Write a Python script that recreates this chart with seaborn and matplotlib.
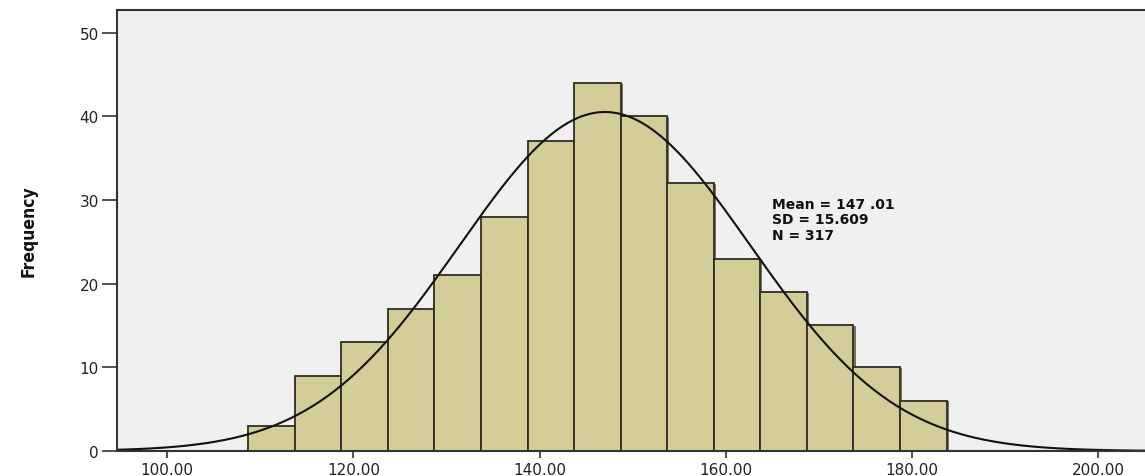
import numpy as np
import pandas as pd
import matplotlib
matplotlib.use("Agg")
import matplotlib.pyplot as plt
import matplotlib.patheffects as pe
import seaborn as sns
from matplotlib.ticker import FormatStrFormatter

# Histogram counts per 5-unit bin
bin_start = 108.7
bin_width = 5.0
counts = [3, 9, 13, 17, 21, 28, 37, 44, 40, 32, 23, 19, 15, 10, 6]
x_ticks = [100, 120, 140, 160, 180, 200]
y_ticks = [0, 10, 20, 30, 40, 50]
mean_val = 147.01
sd_val = 15.609
n_val = 317

sns.set_theme(style="white")
plt.rcParams["font.family"] = ["DejaVu Sans"]

edges = [bin_start + bin_width * i for i in range(len(counts) + 1)]
centers = [(edges[i] + edges[i + 1]) / 2 for i in range(len(counts))]
df = pd.DataFrame({"value": centers, "count": counts})

fig = plt.figure(figsize=(11.45, 4.77), dpi=100)
ax = fig.add_axes([0.102, 0.0524, 0.898, 0.9245])
ax.set_facecolor("#f0f0f0")

sns.histplot(data=df, x="value", weights="count", bins=edges, ax=ax,
             color="#d3ce97", alpha=1.0, edgecolor="#2e2e22", linewidth=1.3)
for p in ax.patches:
    p.set_path_effects([pe.SimplePatchShadow(offset=(1.5, -0.5), shadow_rgbFace="#5a5840", alpha=0.8),
                        pe.Normal()])

# Normal curve scaled to the histogram
xs = np.linspace(94.0, 210.0, 600)
ys = n_val * bin_width * np.exp(-0.5 * ((xs - mean_val) / sd_val) ** 2) / (sd_val * np.sqrt(2 * np.pi))
sns.lineplot(x=xs, y=ys, ax=ax, color="#111111", linewidth=1.5)

ax.set_xlim(94.6, 205.0)
ax.set_ylim(0, 52.7)
ax.set_xticks(x_ticks)
ax.set_yticks(y_ticks)
ax.xaxis.set_major_formatter(FormatStrFormatter("%.2f"))
ax.tick_params(axis="both", direction="out", width=1.2, color="#333333",
               labelsize=11, labelcolor="#222222", bottom=True, left=True)
ax.tick_params(axis="x", length=5, pad=3)
ax.tick_params(axis="y", length=11, pad=2)
ax.set_xlabel("")
ax.set_ylabel("Frequency", fontsize=12.5, fontweight="bold", fontstretch="condensed",
              color="#111111", labelpad=30)

for side in ["left", "bottom", "top"]:
    ax.spines[side].set_visible(True)
    ax.spines[side].set_color("#333333")
    ax.spines[side].set_linewidth(1.5)
ax.spines["right"].set_visible(False)

ax.text(165.0, 30.4, f"Mean = 147 .01\nSD = {sd_val:.3f}\nN = {n_val}",
        fontsize=10, fontweight="bold", family="DejaVu Sans", fontstretch="normal",
        color="#111111", linespacing=1.15, va="top", ha="left")

fig.savefig("out.png", dpi=100, facecolor="white")
